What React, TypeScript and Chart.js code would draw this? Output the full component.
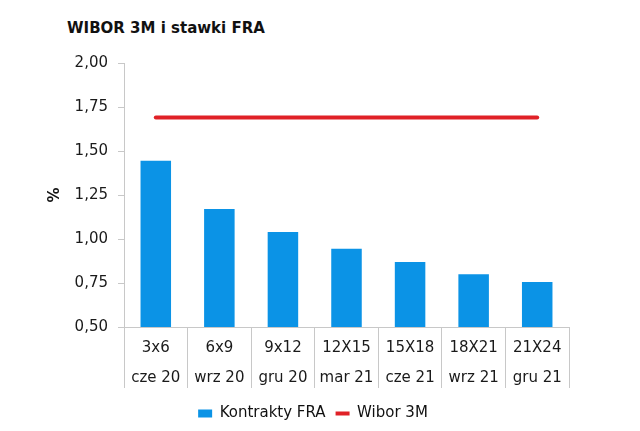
import React, { useEffect, useRef } from "react";
import { Chart, registerables } from "chart.js";

Chart.register(...registerables);

const contracts = ["3x6", "6x9", "9x12", "12X15", "15X18", "18X21", "21X24"];
const months = ["cze 20", "wrz 20", "gru 20", "mar 21", "cze 21", "wrz 21", "gru 21"];
const fraRates = [1.445, 1.17, 1.04, 0.945, 0.87, 0.8, 0.755];
const wibor3m = [1.69, 1.69, 1.69, 1.69, 1.69, 1.69, 1.69];
const yMin = 0.5;
const yMax = 2.0;
const yStep = 0.25;

const FONT = "'DejaVu Sans', Verdana, sans-serif";

export default function App() {
  const ref = useRef<HTMLCanvasElement | null>(null);

  useEffect(() => {
    if (!ref.current) return;
    const labels = contracts.map((c, i) => [c, months[i]]);
    const chart = new Chart(ref.current, {
      type: "bar",
      data: {
        labels,
        datasets: [
          {
            type: "bar",
            label: "Kontrakty FRA",
            data: fraRates,
            backgroundColor: "#0b93e6",
            borderWidth: 0,
            categoryPercentage: 0.48,
            barPercentage: 1,
            pointStyle: "rect",
            order: 2,
          } as any,
          {
            type: "line",
            label: "Wibor 3M",
            data: wibor3m,
            borderColor: "#e02127",
            backgroundColor: "#e02127",
            borderWidth: 4,
            pointRadius: 0,
            pointHoverRadius: 0,
            pointStyle: "line",
            borderCapStyle: "round",
            order: 1,
          } as any,
        ],
      },
      options: {
        responsive: false,
        animation: false,
        layout: { padding: { left: 0, right: 14, top: 63, bottom: 0 } },
        plugins: {
          tooltip: { enabled: false },
          title: { display: false },
          legend: {
            position: "bottom",
            labels: {
              usePointStyle: true,
              pointStyleWidth: 14,
              boxHeight: 8,
              padding: 10,
              color: "#111",
              font: { family: FONT, size: 15 },
              sort: (a: any, b: any) => a.datasetIndex - b.datasetIndex,
            },
          },
        },
        scales: {
          x: {
            offset: true,
            grid: {
              display: true,
              drawOnChartArea: false,
              drawTicks: true,
              tickLength: 61,
              color: "#c8c8c8",
              offset: true,
            },
            border: { display: true, color: "#c8c8c8" },
            ticks: {
              padding: -55,
              autoSkip: false,
              maxRotation: 0,
              color: "#1a1a1a",
              font: { family: FONT, size: 15, lineHeight: 2 },
            },
            afterFit: (s: any) => {
              s.height = 69;
            },
          } as any,
          y: {
            min: yMin,
            max: yMax,
            grid: { drawOnChartArea: false, tickLength: 6, color: "#c8c8c8" },
            border: { display: true, color: "#c8c8c8" },
            ticks: {
              stepSize: yStep,
              padding: 10,
              color: "#1a1a1a",
              font: { family: FONT, size: 15 },
              callback: (v: any) => Number(v).toFixed(2).replace(".", ","),
            },
            title: {
              display: true,
              text: "%",
              color: "#111",
              font: { family: FONT, size: 15, weight: "bold" },
              padding: { top: 46, bottom: 0 },
            },
            afterFit: (s: any) => {
              s.width = 124;
            },
          } as any,
          yr: {
            type: "linear",
            position: "right",
            display: true,
            grid: { display: false },
            ticks: { display: false },
            border: { display: false },
            afterFit: (s: any) => {
              s.width = 57;
            },
          } as any,
        },
      },
    });
    return () => chart.destroy();
  }, []);

  return (
    <div
      style={{
        position: "fixed",
        left: 0,
        top: 0,
        width: 640,
        height: 431,
        background: "#fff",
      }}
    >
      <div
        style={{
          position: "absolute",
          left: 67,
          top: 19,
          fontFamily: FONT,
          fontWeight: "bold",
          fontSize: 15,
          lineHeight: "18px",
          color: "#111",
          whiteSpace: "nowrap",
        }}
      >
        WIBOR 3M i stawki FRA
      </div>
      <canvas
        ref={ref}
        width={640}
        height={431}
        style={{ position: "absolute", left: 0, top: 0, display: "block" }}
      />
    </div>
  );
}
